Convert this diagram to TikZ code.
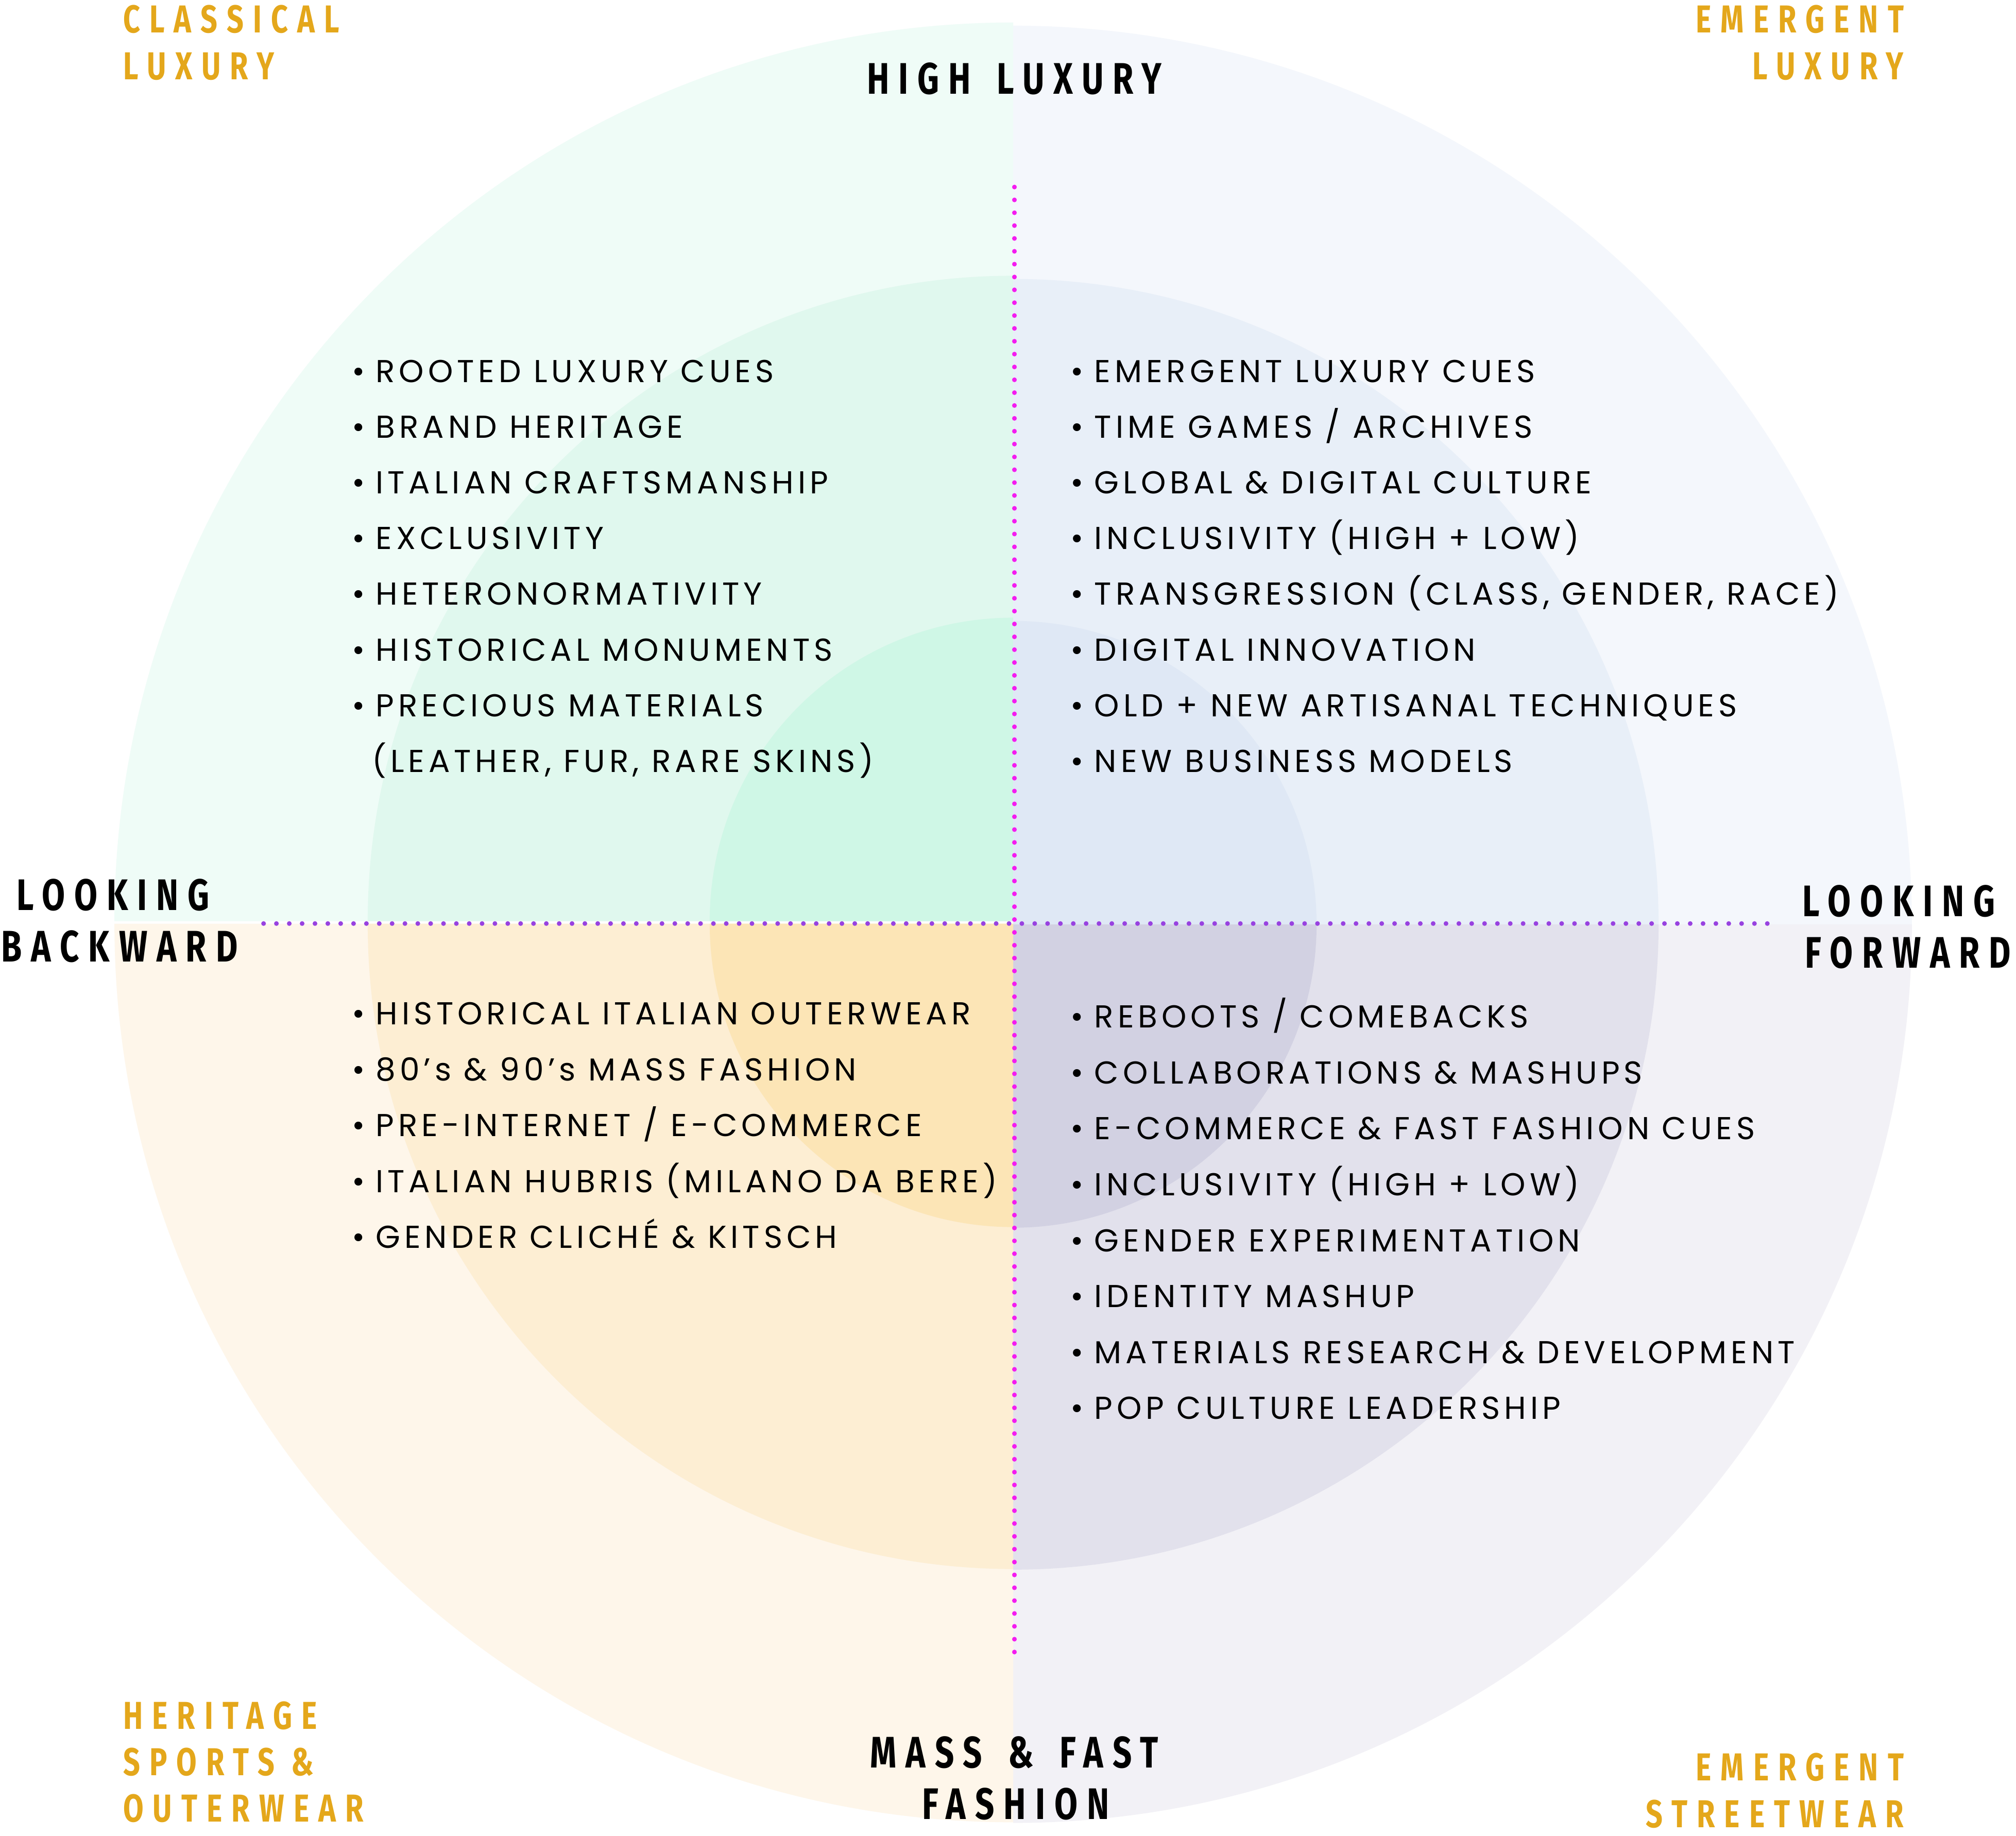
\documentclass[tikz,border=0pt]{standalone}
\usepackage{fontspec}
\newfontfamily\bodyfont[LetterSpace=13]{Poppins}
\newfontfamily\headfont[FakeStretch=0.76,LetterSpace=21,WordSpace=1.5]{Fira Sans}
\newfontfamily\goldfont[FakeStretch=0.76,LetterSpace=24]{Fira Sans}
\definecolor{goldc}{HTML}{E4A71B}
\definecolor{magc}{HTML}{F41CF0}
\definecolor{purc}{HTML}{9842E0}
\definecolor{tlA}{HTML}{EFFCF7}
\definecolor{tlB}{HTML}{E0F8EE}
\definecolor{tlC}{HTML}{CFF7E6}
\definecolor{trA}{HTML}{F4F7FC}
\definecolor{trB}{HTML}{E8EFF8}
\definecolor{trC}{HTML}{DFE8F5}
\definecolor{blA}{HTML}{FEF6EA}
\definecolor{blB}{HTML}{FDEED3}
\definecolor{blC}{HTML}{FCE5B6}
\definecolor{brA}{HTML}{F2F1F6}
\definecolor{brB}{HTML}{E2E1EC}
\definecolor{brC}{HTML}{D2D1E2}
\newcommand\bitem[3]{\node[body] (#1) at (#2) {\llap{•\hspace{6pt}}#3};}
\begin{document}
\begin{tikzpicture}[x=0.02496cm,y=-0.02496cm,
  body/.style={font=\bodyfont\fontsize{17.5}{20}\selectfont, inner sep=0, anchor=base west},
  head/.style={font=\headfont\bfseries\fontsize{24.4}{29}\selectfont, inner sep=0, anchor=base},
  gold/.style={font=\goldfont\bfseries\fontsize{21.5}{25}\selectfont, text=goldc, inner sep=0},
  magdots/.style={draw=magc, line width=2.6pt, line cap=round, dash pattern=on 0pt off 7.1pt},
  purdots/.style={draw=purc, line width=2.6pt, line cap=round, dash pattern=on 0pt off 7.1pt}]
\useasboundingbox (0,0) rectangle (1568,1428);
\fill[white] (0,0) rectangle (1568,1428);
\coordinate (O) at (788,718);
% outer ring
\fill[tlA] (788,716.5) -- ++(-699,0) arc[start angle=180,end angle=270,radius=699] -- cycle;
\fill[trA] (788,719) -- ++(0,-699) arc[start angle=270,end angle=360,radius=699] -- cycle;
\fill[brA] (788,719) -- ++(699,0) arc[start angle=0,end angle=90,radius=699] -- cycle;
\fill[blA] (788,718.5) -- ++(0,699) arc[start angle=90,end angle=180,radius=699] -- cycle;
% middle ring
\fill[tlB] (788,716.5) -- ++(-502,0) arc[start angle=180,end angle=270,radius=502] -- cycle;
\fill[trB] (788,719) -- ++(0,-502) arc[start angle=270,end angle=360,radius=502] -- cycle;
\fill[brB] (788,719) -- ++(502,0) arc[start angle=0,end angle=90,radius=502] -- cycle;
\fill[blB] (788,718.5) -- ++(0,502) arc[start angle=90,end angle=180,radius=502] -- cycle;
% inner ring
\fill[tlC] (788,716.5) -- ++(-236,0) arc[start angle=180,end angle=270,radius=236] -- cycle;
\fill[trC] (788,719) -- ++(0,-236) arc[start angle=270,end angle=360,radius=236] -- cycle;
\fill[brC] (788,719) -- ++(236,0) arc[start angle=0,end angle=90,radius=236] -- cycle;
\fill[blC] (788,718.5) -- ++(0,236) arc[start angle=90,end angle=180,radius=236] -- cycle;
% dotted axes
\coordinate (vtop) at (789,145.5);
\coordinate (vbot) at (789,1294);
\coordinate (hleft) at (205,718.4);
\coordinate (hright) at (1375,718.4);
\draw[purdots] (hleft) -- (hright);
\draw[magdots] (vtop) -- (vbot);
% corner labels
\node[gold, anchor=base west] (cl1) at (95.5,25.3) {CLASSICAL};
\node[gold, anchor=base west] (cl2) at (95.5,61.7) {LUXURY};
\node[gold, anchor=base east] (el1) at (1481,25.3) {EMERGENT};
\node[gold, anchor=base east] (el2) at (1481,61.7) {LUXURY};
\node[gold, anchor=base west] (hs1) at (95.5,1345) {HERITAGE};
\node[gold, anchor=base west] (hs2) at (95.5,1381) {SPORTS \&};
\node[gold, anchor=base west] (hs3) at (95.5,1417) {OUTERWEAR};
\node[gold, anchor=base east] (es1) at (1481,1385) {EMERGENT};
\node[gold, anchor=base east] (es2) at (1481,1421.5) {STREETWEAR};
% axis labels
\node[head] (hl) at (789,73.3) {HIGH LUXURY};
\node[head] (lb1) at (88,708) {LOOKING};
\node[head] (lb2) at (93,748) {BACKWARD};
\node[head] (lf1) at (1477,712.8) {LOOKING};
\node[head] (lf2) at (1484,752.8) {FORWARD};
\node[head] (mf1) at (789,1375) {MASS \& FAST};
\node[head] (mf2) at (790,1415) {FASHION};
% top-left list
\bitem{tl1}{292,297.5}{ROOTED LUXURY CUES}
\bitem{tl2}{292,340.8}{BRAND HERITAGE}
\bitem{tl3}{292,384.1}{ITALIAN CRAFTSMANSHIP}
\bitem{tl4}{292,427.4}{EXCLUSIVITY}
\bitem{tl5}{292,470.7}{HETERONORMATIVITY}
\bitem{tl6}{292,514}{HISTORICAL MONUMENTS}
\bitem{tl7}{292,557.3}{PRECIOUS MATERIALS}
\node[body] (tl8) at (289,600.6) {(LEATHER, FUR, RARE SKINS)};
% top-right list
\bitem{tr1}{851,297.5}{EMERGENT LUXURY CUES}
\bitem{tr2}{851,340.8}{TIME GAMES / ARCHIVES}
\bitem{tr3}{851,384.1}{GLOBAL \& DIGITAL CULTURE}
\bitem{tr4}{851,427.4}{INCLUSIVITY (HIGH + LOW)}
\bitem{tr5}{851,470.7}{TRANSGRESSION (CLASS, GENDER, RACE)}
\bitem{tr6}{851,514}{DIGITAL INNOVATION}
\bitem{tr7}{851,557.3}{OLD + NEW ARTISANAL TECHNIQUES}
\bitem{tr8}{851,600.6}{NEW BUSINESS MODELS}
% bottom-left list
\bitem{bl1}{292,797}{HISTORICAL ITALIAN OUTERWEAR}
\bitem{bl2}{292,840.5}{80’s \& 90’s MASS FASHION}
\bitem{bl3}{292,884}{PRE-INTERNET / E-COMMERCE}
\bitem{bl4}{292,927.5}{ITALIAN HUBRIS (MILANO DA BERE)}
\bitem{bl5}{292,971}{GENDER CLICHÉ \& KITSCH}
% bottom-right list
\bitem{br1}{851,799.5}{REBOOTS / COMEBACKS}
\bitem{br2}{851,843}{COLLABORATIONS \& MASHUPS}
\bitem{br3}{851,886.5}{E-COMMERCE \& FAST FASHION CUES}
\bitem{br4}{851,930}{INCLUSIVITY (HIGH + LOW)}
\bitem{br5}{851,973.5}{GENDER EXPERIMENTATION}
\bitem{br6}{851,1017}{IDENTITY MASHUP}
\bitem{br7}{851,1060.5}{MATERIALS RESEARCH \& DEVELOPMENT}
\bitem{br8}{851,1104}{POP CULTURE LEADERSHIP}
\end{tikzpicture}
\end{document}
